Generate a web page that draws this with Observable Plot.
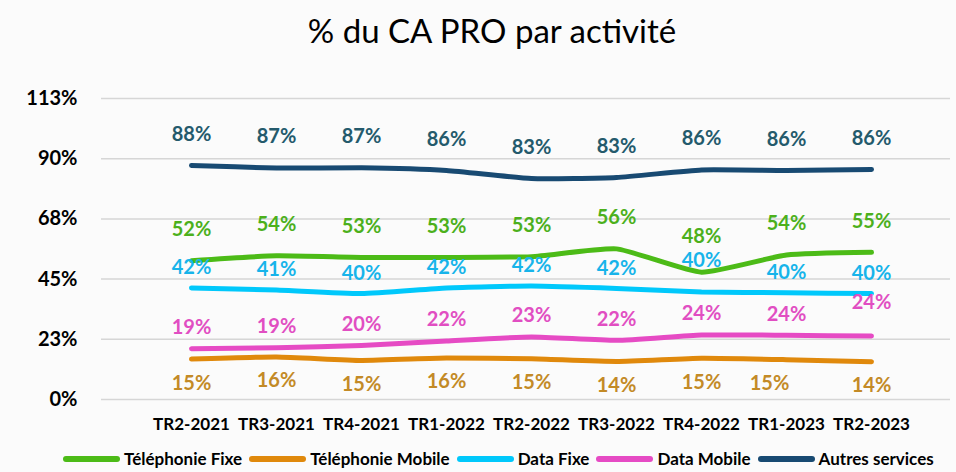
<!DOCTYPE html>
<html><head><meta charset="utf-8">
<script src="https://cdn.jsdelivr.net/npm/d3@7"></script>
<script src="https://cdn.jsdelivr.net/npm/@observablehq/plot@0.6"></script>
<style>
body{margin:0;background:#fbfbfb;font-family:Lato,"Open Sans",sans-serif;width:956px;height:472px;overflow:hidden}
#title{height:70px;text-align:center;font-size:33px;line-height:60px;padding-left:28px;box-sizing:border-box;color:#000}
#chart svg{display:block}
#legend{display:flex;align-items:center;height:27px;padding-left:63px;font-weight:700;font-size:17px;color:#000;white-space:nowrap}
#legend .sw{width:57px;height:6px;border-radius:3px;margin-right:4px}
#legend .lb{margin-right:7px}
</style></head><body>
<div id="title">% du CA PRO par activité</div>
<div id="chart"></div>
<div id="legend"></div>
<script>
const periods = ["TR2-2021","TR3-2021","TR4-2021","TR1-2022","TR2-2022","TR3-2022","TR4-2022","TR1-2023","TR2-2023"];
const telephonieFixe   = [51.9, 53.7, 53.1, 53.1, 53.4, 56.3, 47.6, 54.0, 55.0];
const telephonieMobile = [15.1, 15.9, 14.6, 15.5, 15.2, 14.2, 15.4, 14.9, 14.1];
const dataFixe         = [41.7, 40.9, 39.6, 41.7, 42.4, 41.5, 40.2, 39.9, 39.6];
const dataMobile       = [19.0, 19.3, 20.2, 21.9, 23.4, 22.1, 24.1, 24.0, 23.7];
const autresServices   = [87.5, 86.5, 86.6, 85.6, 82.6, 83.0, 85.8, 85.6, 86.0];
const seriesNames = ["Téléphonie Fixe","Téléphonie Mobile","Data Fixe","Data Mobile","Autres services"];
const yTicks = [0, 22.5, 45, 67.5, 90, 112.5];

const lineColors  = ["#4cbb17","#e0890c","#00c8fb","#e64bc4","#184a72"];
const labelColors = ["#4cb01c","#c38a26","#17b4ea","#e14ec2","#245a6c"];
const labelDy     = [-31, 24, -20, -21, -31];

const seriesValues = [telephonieFixe, telephonieMobile, dataFixe, dataMobile, autresServices];
const rows = [];
seriesValues.forEach((vals, s) => vals.forEach((v, i) => rows.push({period: periods[i], value: v, series: seriesNames[s], s})));

const specialKeys = {"0|TR4-2022": [-36, 0], "2|TR4-2022": [-31, 0], "3|TR2-2023": [-33, 0], "1|TR1-2023": [24, -17]};
const special = r => (r.s + "|" + r.period) in specialKeys;
const fmt = d => Math.round(d.value) + "%";

const marks = [
  Plot.ruleY(yTicks, {stroke: "#d6d6d6", strokeWidth: 1.5}),
  Plot.axisY({ticks: yTicks, tickFormat: d => Math.round(d) + "%", tickSize: 0, tickPadding: 24, fontSize: 20, fontWeight: 700, fill: "#000", label: null}),
  Plot.axisX({tickSize: 0, tickPadding: 18, fontSize: 17, fontWeight: 700, fill: "#000", label: null}),
  ...seriesNames.map((name, s) => Plot.line(rows.filter(r => r.s === s), {x: "period", y: "value", stroke: lineColors[s], strokeWidth: 5, curve: "cardinal", tension: 0.5, strokeLinecap: "round", strokeLinejoin: "round"})),
  ...seriesNames.map((name, s) => Plot.text(rows.filter(r => r.s === s && !special(r)), {x: "period", y: "value", text: fmt, dy: labelDy[s], fill: labelColors[s], fontSize: 20, fontWeight: 700})),
  ...rows.filter(special).map(r => Plot.text([r], {x: "period", y: "value", text: fmt, dy: specialKeys[r.s + "|" + r.period][0], dx: specialKeys[r.s + "|" + r.period][1], fill: labelColors[r.s], fontSize: 20, fontWeight: 700}))
];

const chart = Plot.plot({
  width: 956, height: 375,
  marginLeft: 101, marginRight: 6, marginTop: 28, marginBottom: 46,
  style: {background: "transparent", fontFamily: "Lato, 'Open Sans', sans-serif", overflow: "visible"},
  x: {type: "point", domain: periods, range: [147, 914]},
  y: {domain: [0, 112.5]},
  marks
});
document.getElementById("chart").appendChild(chart);

const legend = document.getElementById("legend");
seriesNames.forEach((name, s) => {
  const sw = document.createElement("span"); sw.className = "sw"; sw.style.background = lineColors[s];
  const lb = document.createElement("span"); lb.className = "lb"; lb.textContent = name;
  legend.appendChild(sw); legend.appendChild(lb);
});
</script>
</body></html>
